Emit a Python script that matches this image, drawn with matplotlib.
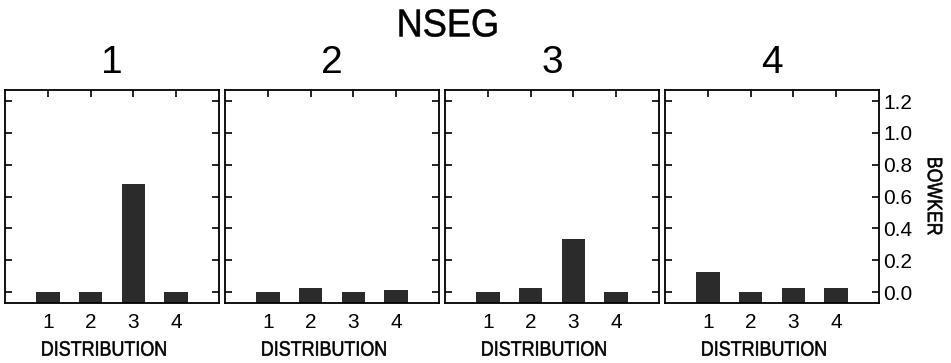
import matplotlib.pyplot as plt
from matplotlib.font_manager import FontProperties
from matplotlib.patches import PathPatch
from matplotlib.textpath import TextPath
from matplotlib.transforms import Affine2D, IdentityTransform
import numpy as np

# NSEG panels and BOWKER values per distribution
nseg = ["1", "2", "3", "4"]
distribution = [1, 2, 3, 4]
bowker_1 = [0.0, 0.0, 0.68, 0.0]
bowker_2 = [0.0, 0.027, 0.0, 0.015]
bowker_3 = [0.0, 0.027, 0.335, 0.0]
bowker_4 = [0.127, 0.0, 0.027, 0.027]
y_ticks = [0.0, 0.2, 0.4, 0.6, 0.8, 1.0, 1.2]

plt.rcParams['font.family'] = ['Liberation Sans', 'DejaVu Sans']

DPI = 100
W, H = 951.0, 363.0
fig = plt.figure(figsize=(W / DPI, H / DPI), dpi=DPI)


def narrow_text(s, cx, cy, size, squeeze, rotate=0):
    # condensed text: glyph outlines squeezed horizontally, placed in pixels
    tp = TextPath((0, 0), s, size=size, prop=FontProperties(family="Liberation Sans"))
    ext = tp.get_extents()
    k = DPI / 72.0
    tr = (Affine2D()
          .translate(-(ext.x0 + ext.x1) / 2, -(ext.y0 + ext.y1) / 2)
          .scale(squeeze * k, k)
          .rotate_deg(rotate)
          .translate(cx, H - cy))
    fig.add_artist(PathPatch(tr.transform_path(tp), facecolor="black",
                             edgecolor="black", linewidth=0.4,
                             transform=IdentityTransform()))


lefts = [5, 225, 445, 665]
top, bottom = 90, 303
ymin, ymax = -0.069, 1.27

for i, vals in enumerate([bowker_1, bowker_2, bowker_3, bowker_4]):
    ax = fig.add_axes([lefts[i] / W, 1 - bottom / H, 214 / W, (bottom - top) / H])
    ax.bar(distribution, np.array(vals) - ymin, width=0.55, bottom=ymin,
           color="#2b2b2b", edgecolor="none")
    ax.set_xlim(0, 5)
    ax.set_ylim(ymin, ymax)
    ax.set_xticks(distribution)
    ax.set_yticks(y_ticks)
    for s in ax.spines.values():
        s.set_linewidth(1.3)
    ax.tick_params(axis="x", direction="in", bottom=False, top=True,
                   labelbottom=True, length=5, width=1.2, labelsize=15, pad=7)
    ax.tick_params(axis="y", direction="in", left=True, right=True,
                   labelleft=False, labelright=(i == 3), length=5, width=1.2,
                   labelsize=15, pad=3)
    if i == 3:
        ax.set_yticklabels(["%.1f" % t for t in y_ticks])
    ax.set_title(nseg[i], fontsize=28, pad=12)
    narrow_text("DISTRIBUTION", lefts[i] + 99, 348.5, 15, 0.86)

narrow_text("NSEG", 448, 23, 28, 0.93)
narrow_text("BOWKER", 935, 196.5, 15, 0.85, rotate=-90)

fig.savefig("out.png", dpi=DPI)
